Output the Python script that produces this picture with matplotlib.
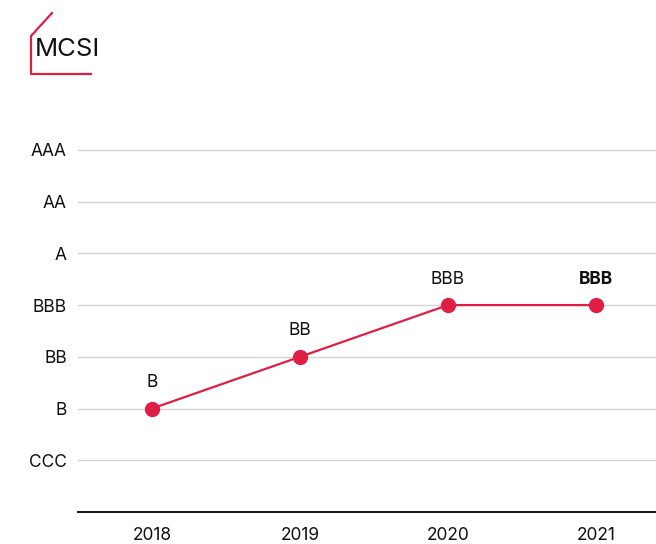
import matplotlib
matplotlib.use('Agg')
import matplotlib.pyplot as plt
from matplotlib.lines import Line2D

# data
ratings = ['CCC', 'B', 'BB', 'BBB', 'A', 'AA', 'AAA']
years = ['2018', '2019', '2020', '2021']
year_ratings = ['B', 'BB', 'BBB', 'BBB']

red = '#E01E45'
plt.rcParams['font.family'] = ['Inter', 'DejaVu Sans']

W, H = 656, 544
fig = plt.figure(figsize=(W / 100, H / 100), dpi=100)
ax = fig.add_axes([78 / W, 1 - 512 / H, 1 - 78 / W, (512 - 124) / H])

xs = list(range(len(years)))
ys = [ratings.index(r) for r in year_ratings]
ax.plot(xs, ys, color=red, lw=1.6, marker='o', markersize=10, zorder=3, clip_on=False)

for i, (x, y) in enumerate(zip(xs, ys)):
    ax.annotate(year_ratings[i], (x, y), xytext=(0, 12.5), textcoords='offset points',
                ha='center', va='bottom', fontsize=12.5, color='#111111',
                fontweight='bold' if i == len(xs) - 1 else 'normal')

ax.set_yticks(range(len(ratings)))
ax.set_yticklabels(ratings)
ax.set_xticks(xs)
ax.set_xticklabels(years)
ax.set_ylim(-1, 6.5)
ax.set_xlim(-0.5, 3.5 - 14 / 148)
ax.grid(axis='y', color='#d4d4d4', lw=1)
ax.set_axisbelow(True)
for s in ['top', 'right', 'left']:
    ax.spines[s].set_visible(False)
ax.spines['bottom'].set_color('#111111')
ax.spines['bottom'].set_linewidth(1.4)
ax.tick_params(axis='both', length=0, labelsize=12.5, colors='#111111')
ax.tick_params(axis='y', pad=8)
ax.tick_params(axis='x', pad=11)

# title with bracket
px = lambda x, y: (x / W, 1 - y / H)
pts = [px(52, 13), px(31, 36), px(31, 74), px(91, 74)]
fig.add_artist(Line2D([p[0] for p in pts], [p[1] for p in pts], color=red, lw=1.6,
                      transform=fig.transFigure))
fig.text(35 / W, 1 - 49 / H, 'MCSI', fontsize=18.5, color='#111111', va='center', ha='left')

fig.savefig('out.png', dpi=100)
